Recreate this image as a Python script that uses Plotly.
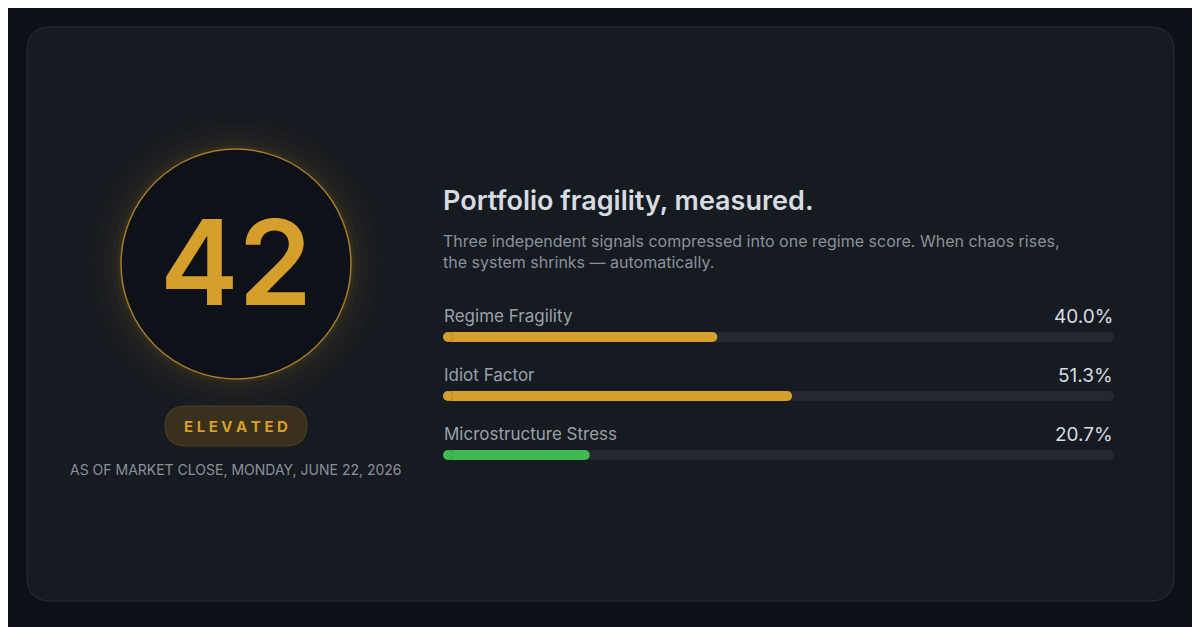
import plotly.graph_objects as go

W, H = 1200, 627
labels = ["Regime Fragility", "Idiot Factor", "Microstructure Stress"]
values = [40.0, 51.3, 20.7]
colors = ["#d69e2a", "#d69e2a", "#3fb950"]
score = 42
status = "ELEVATED"
title = "Portfolio fragility, measured."
subtitle = "Three independent signals compressed into one regime score. When chaos rises,<br>the system shrinks — automatically."
date_text = "AS OF MARKET CLOSE, MONDAY, JUNE 22, 2026"

OFF = 8
def px(x): return (x - OFF) / W
def py(y): return 1 - (y - OFF) / H

def rrect(x0, y0, x1, y1, r):
    X0, X1 = px(x0), px(x1); Y0, Y1 = py(y0), py(y1)
    rx, ry = r / W, r / H
    return (f"M{X0+rx},{Y0} L{X1-rx},{Y0} Q{X1},{Y0} {X1},{Y0-ry} L{X1},{Y1+ry} Q{X1},{Y1} {X1-rx},{Y1} "
            f"L{X0+rx},{Y1} Q{X0},{Y1} {X0},{Y1+ry} L{X0},{Y0-ry} Q{X0},{Y0} {X0+rx},{Y0} Z")

fig = go.Figure()
rows = list(range(len(values)))
n = len(values)
# track
fig.add_trace(go.Bar(y=rows, x=[100]*n, orientation="h", width=0.17,
                     marker=dict(color="#232831", line_width=0), hoverinfo="skip"))
fig.add_trace(go.Scatter(y=rows*2, x=[0]*n + [100]*n, mode="markers", cliponaxis=False,
                         marker=dict(size=10, color="#232831", line_width=0), hoverinfo="skip"))
# values
fig.add_trace(go.Bar(y=rows, x=values, orientation="h", width=0.17,
                     marker=dict(color=colors, line_width=0), hoverinfo="skip"))
fig.add_trace(go.Scatter(y=rows*2, x=[0]*n + values, mode="markers", cliponaxis=False,
                         marker=dict(size=10, color=colors*2, line_width=0), hoverinfo="skip"))

shapes = [dict(type="path", xref="paper", yref="paper", path=rrect(27, 27, 1174, 601, 24),
               fillcolor="#161a21", line=dict(color="#2a2f38", width=1), layer="below")]
cx, cy, r = 236, 264, 115
for dr, op in [(36, 0.012), (26, 0.018), (17, 0.025), (9, 0.035), (4, 0.05)]:
    shapes.append(dict(type="circle", xref="paper", yref="paper",
                       x0=px(cx-r-dr), x1=px(cx+r+dr), y0=py(cy+r+dr), y1=py(cy-r-dr),
                       fillcolor=f"rgba(214,158,42,{op})", line_width=0, layer="below"))
shapes.append(dict(type="circle", xref="paper", yref="paper",
                   x0=px(cx-r), x1=px(cx+r), y0=py(cy+r), y1=py(cy-r),
                   fillcolor="#0e1117", line=dict(color="#a87a26", width=1.5), layer="below"))
shapes.append(dict(type="path", xref="paper", yref="paper", path=rrect(165, 406, 307, 446, 20),
                   fillcolor="#3a311d", line=dict(color="#4d4025", width=1), layer="below"))

ann = [
    dict(x=px(cx), y=py(262), text=str(score), font=dict(size=118, color="#d69e2a", family="Inter", weight=600),
         xanchor="center", yanchor="middle"),
    dict(x=px(236), y=py(426), text="E L E V A T E D", font=dict(size=15, color="#d69e2a", family="Inter", weight=700),
         xanchor="center", yanchor="middle"),
    dict(x=px(236), y=py(469), text=date_text, font=dict(size=14, color="#8b919b", family="Inter"),
         xanchor="center", yanchor="middle"),
    dict(x=px(441), y=py(200), text=title, font=dict(size=27, color="#d8dce2", family="Inter", weight=600),
         xanchor="left", yanchor="middle"),
    dict(x=px(441), y=py(251), text=subtitle, font=dict(size=16, color="#8b919b", family="Inter"),
         xanchor="left", yanchor="middle", align="left"),
]
for i, (lab, v) in enumerate(zip(labels, values)):
    yy = 316 + 59 * i
    ann.append(dict(x=px(442), y=py(yy), text=lab, font=dict(size=17, color="#9aa0a8", family="Inter"),
                    xanchor="left", yanchor="middle"))
    ann.append(dict(x=px(1115), y=py(yy), text=f"{v:.1f}%", font=dict(size=19, color="#d8dce2", family="Inter"),
                    xanchor="right", yanchor="middle"))
for a in ann:
    a.update(xref="paper", yref="paper", showarrow=False)

fig.update_layout(
    width=W, height=H, margin=dict(l=0, r=0, t=0, b=0),
    paper_bgcolor="#0d1016", plot_bgcolor="rgba(0,0,0,0)",
    barmode="overlay", showlegend=False, shapes=shapes, annotations=ann,
    xaxis=dict(domain=[px(448), px(1109)], range=[0, 100], visible=False, fixedrange=True),
    yaxis=dict(domain=[py(484.5), py(307.5)], range=[2.5, -0.5], visible=False, fixedrange=True),
)
fig.write_html("out.html", config={"displayModeBar": False})
